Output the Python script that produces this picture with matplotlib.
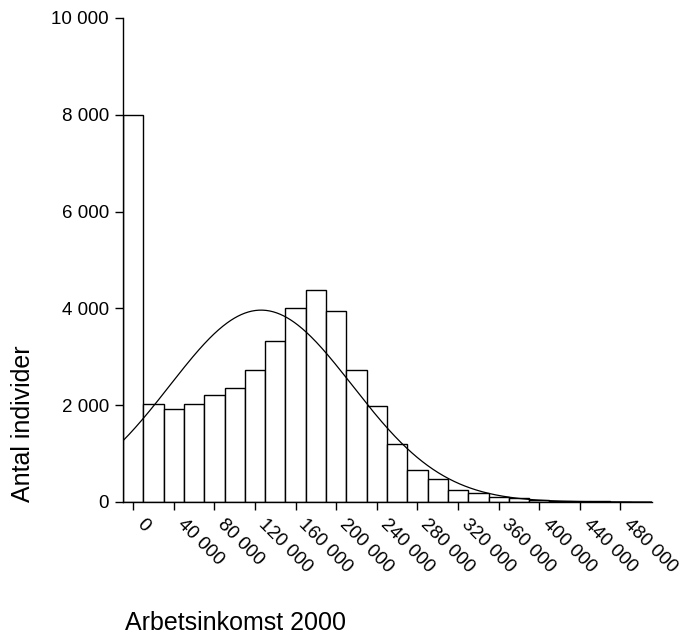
import numpy as np
import matplotlib.pyplot as plt

# histogram of earned income 2000, bins of 20 000 centred on the bin value
bin_centers = np.arange(0, 500000, 20000)
counts = [8000, 2034, 1917, 2026, 2206, 2365, 2723, 3329, 3998, 4371,
          3936, 2723, 1993, 1207, 670, 476, 256, 186, 103, 83,
          41, 30, 20, 15, 10]
bin_width = 20000

# fitted normal curve
fit_mean = 126000
fit_sd = 90000

xticks = np.arange(0, 480001, 40000)
yticks = np.arange(0, 10001, 2000)


def fmt(v):
    return '{:,}'.format(int(v)).replace(',', ' ')


plt.rcParams['font.family'] = ['Liberation Sans', 'DejaVu Sans']

fig = plt.figure(figsize=(6.86, 6.36), dpi=100)
ax = fig.add_axes([0.1793, 0.2107, 0.7711, 0.7610])

ax.bar(bin_centers, counts, width=bin_width, color='white',
       edgecolor='black', linewidth=1.0)

n_total = sum(counts)
xs = np.linspace(-10000, 511000, 600)
ys = n_total * bin_width / (fit_sd * np.sqrt(2 * np.pi)) * \
    np.exp(-0.5 * ((xs - fit_mean) / fit_sd) ** 2)
ax.plot(xs, ys, color='black', lw=0.9)

ax.set_xlim(-10000, 511000)
ax.set_ylim(0, 10000)

ax.spines['top'].set_visible(False)
ax.spines['right'].set_visible(False)
for s in ['left', 'bottom']:
    ax.spines[s].set_linewidth(1.0)

ax.set_yticks(yticks)
ax.set_yticklabels([fmt(v) for v in yticks], fontsize=13.5)
ax.set_xticks(xticks)
ax.set_xticklabels([fmt(v) for v in xticks], fontsize=13.5,
                   rotation=-45, ha='left', va='top')
ax.tick_params(axis='both', direction='out', length=6, width=1.0, pad=4)

ax.set_ylabel('Antal individer', fontsize=18, loc='bottom')
ax.yaxis.set_label_coords(-0.166, 0)

fig.text(125 / 686, 1 - 630 / 636, 'Arbetsinkomst 2000', fontsize=18,
         ha='left', va='baseline')

fig.savefig('out.png', dpi=100)
